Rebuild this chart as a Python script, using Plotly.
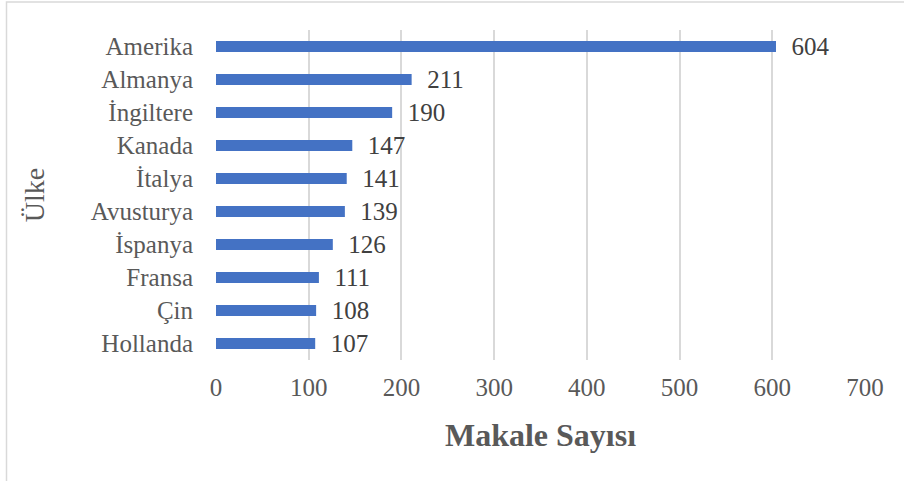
import plotly.graph_objects as go

countries = ["Amerika", "Almanya", "İngiltere", "Kanada", "İtalya",
             "Avusturya", "İspanya", "Fransa", "Çin", "Hollanda"]
counts = [604, 211, 190, 147, 141, 139, 126, 111, 108, 107]
x_ticks = [0, 100, 200, 300, 400, 500, 600, 700]

FONT = "Liberation Serif, Times New Roman, serif"

fig = go.Figure(go.Bar(
    x=counts, y=countries, orientation="h",
    marker=dict(color="#4472C4", line=dict(width=0)),
    width=0.34,
    text=counts,
    texttemplate="\u00a0\u00a0%{x}",
    textposition="outside",
    constraintext="none",
    textfont=dict(family=FONT, size=25, color="#404040"),
    cliponaxis=False,
))

W, H = 904, 481
ml, mr, mt, mb = 216, 39, 30, 121
pw, ph = W - ml - mr, H - mt - mb

def px_x(p):
    return (p - ml) / pw

def px_y(p):
    return 1 - (p - mt) / ph

fig.add_shape(type="path", xref="paper", yref="paper",
              path=f"M {px_x(6.5)} {px_y(481)} L {px_x(6.5)} {px_y(2)} L {px_x(904)} {px_y(2)}",
              line=dict(color="#d9d9d9", width=1.5))

fig.update_layout(
    width=W, height=H,
    margin=dict(l=ml, r=mr, t=mt, b=mb),
    paper_bgcolor="white", plot_bgcolor="white",
    font=dict(family=FONT, color="#595959"),
    showlegend=False,
    xaxis=dict(
        range=[0, 700], tickvals=x_ticks, ticktext=[str(v) for v in x_ticks],
        showgrid=True, gridcolor="#d9d9d9", gridwidth=1.5,
        zeroline=False, showline=False, ticks="",
        tickfont=dict(family=FONT, size=25, color="#595959"),
        ticklabelstandoff=10,
        title=dict(text="<b>Makale Sayısı</b>", font=dict(family=FONT, size=32, color="#595959"), standoff=23),
        fixedrange=True,
    ),
    yaxis=dict(
        autorange="reversed",
        showgrid=False, zeroline=False, showline=False, ticks="",
        tickfont=dict(family=FONT, size=25, color="#595959"),
        ticklabelstandoff=22,
        title=dict(text="Ülke", font=dict(family=FONT, size=28, color="#595959"), standoff=37),
        fixedrange=True,
    ),
)

fig.write_html("out.html", config={"displayModeBar": False},
               post_script="document.body.style.margin='0';")
